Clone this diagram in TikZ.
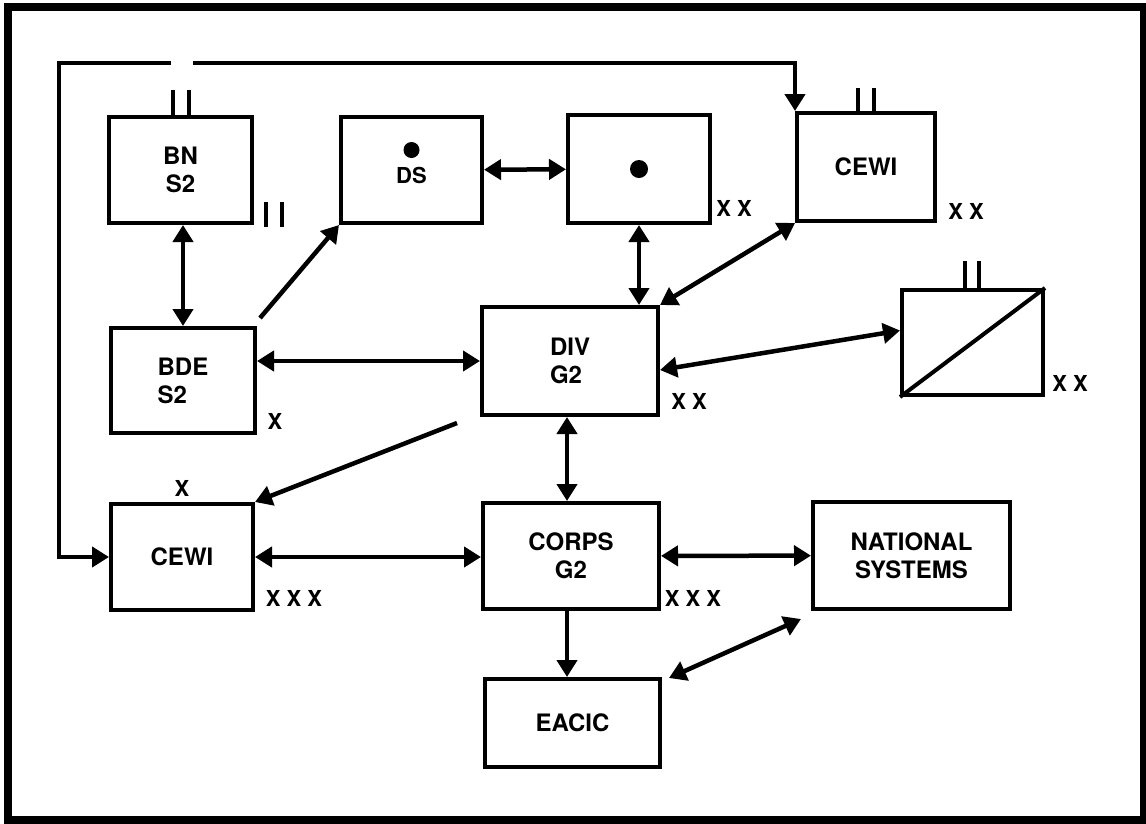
\documentclass[tikz,border=0pt]{standalone}
\usepackage{fontspec}
\setmainfont{TeX Gyre Heros}
\usetikzlibrary{arrows.meta}

\begin{document}
\begin{tikzpicture}[
    x=1pt, y=-1pt,
    >={Triangle[length=17pt,width=20pt]},
    unit/.style={rectangle, draw=black, line width=4pt, inner sep=0pt, align=center, font=\fontsize{24}{28}\selectfont\bfseries},
    arrow/.style={line width=4.5pt, draw=black},
    tag/.style={inner sep=0pt, font=\fontsize{22}{24}\selectfont\bfseries},
    bar/.style={line width=4pt}
]
\useasboundingbox (0,0) rectangle (1146,823);
\draw[line width=8pt] (8,7) rectangle (1144,820);

% Row 1: battalion, DS, division units
\node[unit, minimum width=143pt, minimum height=106pt] (bn) at (180.5,170) {BN\\S2};
\node[unit, minimum width=141pt, minimum height=106pt] (ds) at (411.5,170) {};
\node[unit, minimum width=142pt, minimum height=108pt] (dotbox) at (639,169) {};
\node[unit, minimum width=138pt, minimum height=108pt] (cewitop) at (866,167) {CEWI};

% Row 2: brigade, division, slashed unit
\node[unit, align=left, minimum width=144pt, minimum height=105pt] (bde) at (183,380.5) {BDE\\S2};
\node[unit, align=left, minimum width=176pt, minimum height=108pt] (div) at (570,361) {DIV\\G2};
\node[unit, minimum width=141pt, minimum height=105pt] (slash) at (972.5,342.5) {};

% Row 3: corps level
\node[unit, minimum width=142pt, minimum height=106pt] (cewibot) at (182,557) {CEWI};
\node[unit, minimum width=176pt, minimum height=106pt] (corps) at (571,556) {CORPS\\G2};
\node[unit, minimum width=197pt, minimum height=107pt] (national) at (911.5,555.5) {NATIONAL\\SYSTEMS};

% Row 4
\node[unit, minimum width=175pt, minimum height=88pt] (eacic) at (572.5,723) {EACIC};

% Symbols inside boxes
\fill ([yshift=20pt]ds.center) circle (8pt);
\node[tag] (dslabel) at ([yshift=-5pt]ds.center) {DS};
\fill (dotbox.center) circle (9pt);
\draw[bar] (slash.south west) -- (slash.north east);

% Echelon marks
\foreach \dx in {-8,8} \draw[bar] ([xshift=\dx pt]bn.north) -- ++(0,-25);
\foreach \dx in {12,28} \draw[bar] ([xshift=\dx pt, yshift=-2pt]bn.south east) -- ++(0,-25);
\foreach \dx in {-8,8} \draw[bar] ([xshift=\dx pt]cewitop.north) -- ++(0,-23);
\foreach \dx in {-8,6} \draw[bar] ([xshift=\dx pt]slash.north) -- ++(0,-27);

\node[tag] (bdeech) at (275,421) {X};
\node[tag] (cewibottop) at (182,488) {X};
\node[tag] (cewibotech) at (294,598) {X X X};
\node[tag] (corpsech) at (693,598) {X X X};
\node[tag] (dotech) at (734,208) {X X};
\node[tag] (cewitopech) at (966,211) {X X};
\node[tag] (divech) at (689,401) {X X};
\node[tag] (slashech) at (1070,383) {X X};

% Free ends of connectors
\coordinate (gapL) at (171,63);
\coordinate (gapR) at (193,63);
\coordinate (bdeout) at (260,318);
\coordinate (divout) at (457,423);

% Arrows
\draw[arrow, ->] (gapL) -- (59,63) |- (cewibot.west);
\draw[arrow, ->] (gapR) -| (cewitop.north west);
\draw[arrow, <->] (bn.south -| 183,0) -- (bde.north);
\draw[arrow, ->] (bdeout) -- (ds.south west);
\draw[arrow, <->] (ds) -- (dotbox);
\draw[arrow, <->] (dotbox.south) -- (dotbox.south |- div.north);
\draw[arrow, <->] (cewitop.south west) -- (div.north east);
\draw[arrow, <->] (bde.east |- div.west) -- (div.west);
\draw[arrow, <->] ([yshift=-9pt]div.east) -- ([yshift=12pt]slash.west);
\draw[arrow, ->] (divout) -- (cewibot.north east);
\draw[arrow, <->] (div.south -| 567,0) -- (corps.north -| 567,0);
\draw[arrow, <->] (cewibot) -- (corps.west |- cewibot.east);
\draw[arrow, <->] (corps) -- (national);
\draw[arrow, ->] (corps.south -| 567,0) -- (eacic.north -| 567,0);
\draw[arrow, <->] ([xshift=-10pt, yshift=-8pt]national.south west) -- ([xshift=7pt, yshift=-1pt]eacic.north east);

\end{tikzpicture}
\end{document}
